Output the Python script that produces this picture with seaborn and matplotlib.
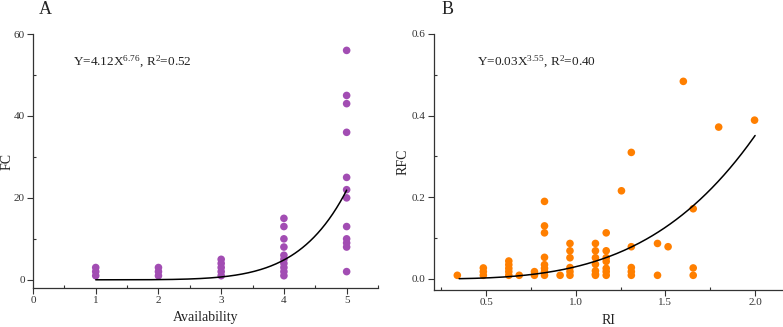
import numpy as np
import pandas as pd
import matplotlib
matplotlib.use("Agg")
import matplotlib.pyplot as plt
import seaborn as sns
from matplotlib.ticker import MultipleLocator

# ---------------- data ----------------
# Panel A: Availability vs FC
avail_x = [1, 1, 1,
           2, 2, 2,
           3, 3, 3, 3, 3,
           4, 4, 4, 4, 4, 4, 4, 4, 4, 4,
           5, 5, 5, 5, 5, 5, 5, 5, 5, 5, 5, 5]
fc_y = [1, 2, 3,
        1, 2, 3,
        1, 2, 3, 4, 5,
        1, 2, 3, 4, 5, 6, 8, 10, 13, 15,
        2, 8, 9, 10, 13, 20, 22, 25, 36, 43, 45, 56]

# Panel B: RI vs RFC
ri_x = [0.34,
        0.485, 0.485, 0.485,
        0.627, 0.627, 0.627, 0.627, 0.627,
        0.685,
        0.77, 0.77,
        0.826, 0.826, 0.826, 0.826, 0.826, 0.826, 0.826, 0.826,
        0.913,
        0.968, 0.968, 0.968, 0.968, 0.968, 0.968,
        1.11, 1.11, 1.11, 1.11, 1.11, 1.11, 1.11,
        1.17, 1.17, 1.17, 1.17, 1.17, 1.17, 1.17,
        1.255,
        1.31, 1.31, 1.31, 1.31, 1.31,
        1.456, 1.456,
        1.515,
        1.60,
        1.655, 1.655, 1.655,
        1.797,
        1.997]
rfc_y = [0.009,
         0.027, 0.018, 0.009,
         0.044, 0.035, 0.026, 0.018, 0.009,
         0.009,
         0.018, 0.009,
         0.190, 0.130, 0.113, 0.053, 0.035, 0.026, 0.018, 0.009,
         0.009,
         0.087, 0.069, 0.052, 0.028, 0.018, 0.009,
         0.087, 0.069, 0.052, 0.036, 0.020, 0.012, 0.009,
         0.113, 0.069, 0.052, 0.043, 0.026, 0.018, 0.009,
         0.216,
         0.310, 0.079, 0.028, 0.018, 0.009,
         0.087, 0.009,
         0.079,
         0.484,
         0.172, 0.027, 0.009,
         0.372,
         0.389]

# fitted power-law models (from the equations shown)
fitA = (4.12e-4, 6.76)   # displayed as 4.12X^6.76
fitB = (0.03, 3.55)
fitA_range = (1, 5)
fitB_range = (0.35, 2.0)

dfA = pd.DataFrame({"Availability": avail_x, "FC": fc_y})
dfB = pd.DataFrame({"RI": ri_x, "RFC": rfc_y})

# ---------------- style ----------------
sns.set_theme(style="white")
plt.rcParams['font.family'] = ['Liberation Serif', 'DejaVu Serif']
plt.rcParams['mathtext.fontset'] = 'custom'
plt.rcParams['mathtext.rm'] = 'Liberation Serif'
plt.rcParams['mathtext.it'] = 'Liberation Serif:italic'

purple = "#a24db3"
orange = "#ff7f00"

fig = plt.figure(figsize=(7.83, 3.27), dpi=100)
axA = fig.add_axes([33/783, 1-288/327, 345/783, 254/327])
axB = fig.add_axes([434/783, 1-290/327, 348/783, 256/327])

sns.scatterplot(data=dfA, x="Availability", y="FC", ax=axA, color=purple,
                s=30, edgecolor="none", linewidth=0, zorder=2)
xs = np.linspace(*fitA_range, 200)
sns.lineplot(x=xs, y=fitA[0]*xs**fitA[1], ax=axA, color="black", lw=1.1, zorder=3)

sns.scatterplot(data=dfB, x="RI", y="RFC", ax=axB, color=orange,
                s=30, edgecolor="none", linewidth=0, zorder=2)
xs2 = np.linspace(*fitB_range, 200)
sns.lineplot(x=xs2, y=fitB[0]*xs2**fitB[1], ax=axB, color="black", lw=1.1, zorder=3)

axA.set_xlim(0, 5.5)
axA.set_ylim(-2, 60)
axA.xaxis.set_major_locator(MultipleLocator(1))
axA.xaxis.set_minor_locator(MultipleLocator(0.5))
axA.yaxis.set_major_locator(MultipleLocator(20))
axA.yaxis.set_minor_locator(MultipleLocator(10))

axB.set_xlim(0.21, 2.15)
axB.set_ylim(-0.027, 0.6)
axB.xaxis.set_major_locator(MultipleLocator(0.5))
axB.xaxis.set_minor_locator(MultipleLocator(0.25))
axB.yaxis.set_major_locator(MultipleLocator(0.2))
axB.yaxis.set_minor_locator(MultipleLocator(0.1))
axB.yaxis.set_major_formatter(matplotlib.ticker.FormatStrFormatter('%.1f'))
axB.xaxis.set_major_formatter(matplotlib.ticker.FormatStrFormatter('%.1f'))

for ax in (axA, axB):
    for s in ("top", "right"):
        ax.spines[s].set_visible(False)
    for s in ("left", "bottom"):
        ax.spines[s].set_color("#333333")
        ax.spines[s].set_linewidth(0.9)
    ax.tick_params(which="major", direction="out", length=4, width=0.8,
                   color="#333333", labelsize=8, pad=2, left=True, bottom=True,
                   labelcolor="#333333")
    ax.tick_params(which="minor", direction="in", length=2.5, width=0.8,
                   color="#333333", left=True, bottom=True)
    ax.set_facecolor("white")

axA.set_xlabel("Availability", fontsize=10, color="#222222")
axA.set_ylabel("FC", fontsize=10, color="#222222")
axB.set_xlabel("RI", fontsize=10, color="#222222")
axB.set_ylabel("RFC", fontsize=10, color="#222222")
axA.xaxis.set_label_coords(0.5, -0.092)
axB.xaxis.set_label_coords(0.5, -0.093)
axA.yaxis.set_label_coords(-0.055, 0.5)
axB.yaxis.set_label_coords(-0.07, 0.5)

axA.text(0.116, 0.89, r"Y=4.12X$^{6.76}$, R$^{2}$=0.52", transform=axA.transAxes,
         fontsize=9.5, va="center", ha="left", color="#222222")
axB.text(0.124, 0.89, r"Y=0.03X$^{3.55}$, R$^{2}$=0.40", transform=axB.transAxes,
         fontsize=9.5, va="center", ha="left", color="#222222")

fig.text(45/783, 1-9/327, "A", fontsize=13, ha="center", va="center", color="#222222")
fig.text(448/783, 1-9/327, "B", fontsize=13, ha="center", va="center", color="#222222")

fig.savefig("out.png", dpi=100, facecolor="white")
